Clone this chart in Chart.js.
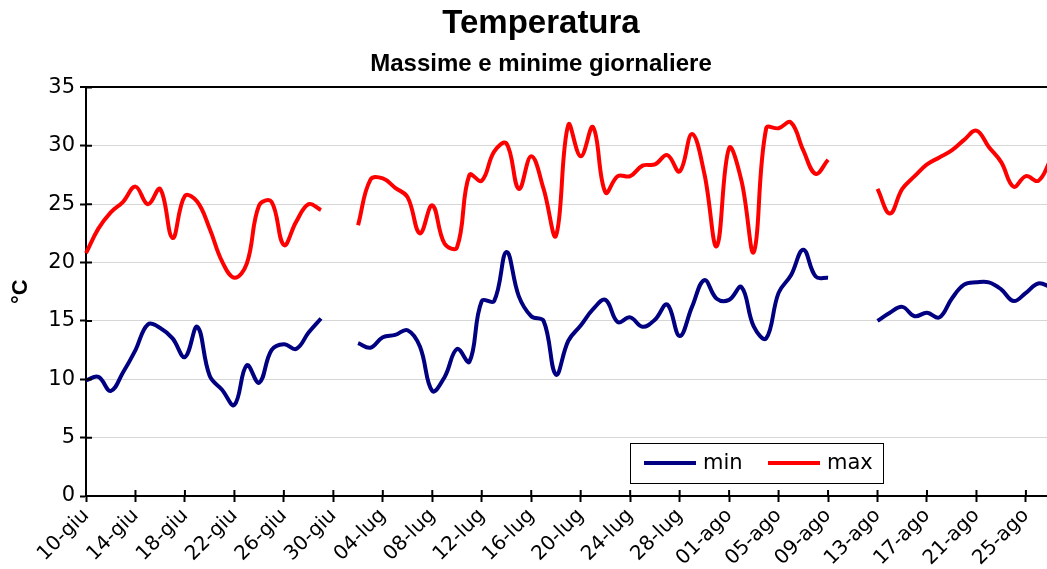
<!DOCTYPE html>
<html>
<head>
<meta charset="utf-8">
<script src="https://cdn.jsdelivr.net/npm/chart.js@4.4.1/dist/chart.umd.min.js"></script>
<style>
  html, body { margin: 0; padding: 0; background: #fff; overflow: hidden; }
  #wrap { width: 1082px; height: 569px; position: relative; }
</style>
</head>
<body>
<div id="wrap"><canvas id="temp-chart"></canvas></div>
<script>
// giorni dal 10-giu al 28-ago
const days = [
  '10-giu','11-giu','12-giu','13-giu','14-giu','15-giu','16-giu','17-giu','18-giu','19-giu',
  '20-giu','21-giu','22-giu','23-giu','24-giu','25-giu','26-giu','27-giu','28-giu','29-giu',
  '30-giu','01-lug','02-lug','03-lug','04-lug','05-lug','06-lug','07-lug','08-lug','09-lug',
  '10-lug','11-lug','12-lug','13-lug','14-lug','15-lug','16-lug','17-lug','18-lug','19-lug',
  '20-lug','21-lug','22-lug','23-lug','24-lug','25-lug','26-lug','27-lug','28-lug','29-lug',
  '30-lug','31-lug','01-ago','02-ago','03-ago','04-ago','05-ago','06-ago','07-ago','08-ago',
  '09-ago','10-ago','11-ago','12-ago','13-ago','14-ago','15-ago','16-ago','17-ago','18-ago',
  '19-ago','20-ago','21-ago','22-ago','23-ago','24-ago','25-ago','26-ago','27-ago','28-ago'
];

// minime giornaliere (°C), null = dato mancante
const minTemps = [
  9.9, 10.2, 9.0, 10.6, 12.5, 14.7, 14.4, 13.5, 11.9, 14.5,
  10.3, 9.1, 7.8, 11.2, 9.7, 12.5, 13.0, 12.6, 14.0, 15.2,
  null, null, 13.1, 12.7, 13.6, 13.8, 14.2, 12.8, 9.0, 10.2,
  12.6, 11.5, 16.7, 16.7, 20.9, 17.1, 15.4, 15.0, 10.4, 13.3,
  14.6, 16.0, 16.8, 14.9, 15.3, 14.5, 15.1, 16.4, 13.7, 16.2,
  18.5, 16.9, 16.8, 17.9, 14.5, 13.5, 17.4, 18.9, 21.1, 18.8,
  18.7, null, null, null, 15.0, 15.7, 16.2, 15.4, 15.7, 15.3,
  16.9, 18.1, 18.3, 18.3, 17.7, 16.7, 17.4, 18.2, 17.9, null
];

// massime giornaliere (°C)
const maxTemps = [
  20.8, 22.9, 24.3, 25.2, 26.5, 25.0, 26.3, 22.1, 25.7, 25.2,
  22.9, 20.1, 18.7, 19.9, 24.9, 25.2, 21.5, 23.5, 25.0, 24.5,
  null, null, 23.2, 27.1, 27.2, 26.4, 25.6, 22.5, 24.9, 21.6,
  21.3, 27.5, 27.0, 29.5, 30.2, 26.3, 29.1, 26.3, 22.3, 31.8,
  29.1, 31.6, 26.0, 27.4, 27.4, 28.3, 28.4, 29.2, 27.8, 31.0,
  27.6, 21.4, 29.8, 27.0, 20.9, 31.5, 31.5, 32.0, 29.6, 27.6,
  28.8, null, null, null, 26.3, 24.2, 26.3, 27.4, 28.4, 29.0,
  29.6, 30.5, 31.3, 29.9, 28.6, 26.5, 27.4, 27.0, 28.8, null
];

const yTicks = [0, 5, 10, 15, 20, 25, 30, 35];

// legenda in riquadro dentro l'area del grafico, come nell'originale
const boxLegend = {
  id: 'boxLegend',
  afterDraw(chart) {
    const c = chart.ctx;
    const x = 630, y = 443, w = 253, h = 40;
    c.save();
    c.fillStyle = '#fff';
    c.fillRect(x, y, w, h);
    c.strokeStyle = '#000';
    c.lineWidth = 1;
    c.strokeRect(x + 0.5, y + 0.5, w, h);
    c.font = '21px "DejaVu Sans"';
    c.textBaseline = 'middle';
    const offsets = [14, 138];
    chart.data.datasets.forEach((ds, i) => {
      const lx = x + offsets[i];
      c.strokeStyle = ds.borderColor;
      c.lineWidth = 4;
      c.beginPath();
      c.moveTo(lx, y + h / 2);
      c.lineTo(lx + 52, y + h / 2);
      c.stroke();
      c.fillStyle = '#000';
      c.fillText(ds.label, lx + 59, y + h / 2 + 1);
    });
    c.restore();
  }
};

// piccole tacche che attraversano gli assi (stile Excel)
const crossTicks = {
  id: 'crossTicks',
  afterDatasetsDraw(chart) {
    const c = chart.ctx;
    const xs = chart.scales.x, ys = chart.scales.y;
    c.save();
    c.strokeStyle = '#000';
    c.lineWidth = 2;
    c.beginPath();
    xs.ticks.forEach((t, i) => {
      if (i % 4 !== 0) return;
      const px = xs.getPixelForTick(i);
      c.moveTo(px, ys.bottom);
      c.lineTo(px, ys.bottom - 6);
    });
    ys.ticks.forEach((t, i) => {
      const py = ys.getPixelForTick(i);
      c.moveTo(xs.left, py);
      c.lineTo(xs.left + 6, py);
    });
    c.stroke();
    c.restore();
  }
};

const ctx = document.getElementById('temp-chart').getContext('2d');
new Chart(ctx, {
  type: 'line',
  data: {
    labels: days,
    datasets: [
      {
        label: 'min',
        data: minTemps,
        borderColor: '#000080',
        borderWidth: 4,
        pointRadius: 0,
        tension: 0.4,
        spanGaps: false
      },
      {
        label: 'max',
        data: maxTemps,
        borderColor: '#ff0000',
        borderWidth: 4,
        pointRadius: 0,
        tension: 0.4,
        spanGaps: false
      }
    ]
  },
  options: {
    responsive: true,
    maintainAspectRatio: false,
    animation: false,
    layout: { padding: { left: 14, right: 14, top: 0, bottom: 0 } },
    plugins: {
      legend: { display: false },
      tooltip: { enabled: false },
      title: {
        display: true,
        text: 'Temperatura',
        color: '#000',
        font: { family: '"Liberation Sans", Arial', size: 33, weight: 'bold' },
        padding: { top: 4, bottom: 6 }
      },
      subtitle: {
        display: true,
        text: 'Massime e minime giornaliere',
        color: '#000',
        font: { family: '"Liberation Sans", Arial', size: 24, weight: 'bold' },
        padding: { top: 0, bottom: 9 }
      }
    },
    scales: {
      x: {
        type: 'category',
        offset: false,
        afterFit: (scale) => { scale.height = 73; },
        grid: {
          drawOnChartArea: false,
          drawTicks: true,
          tickLength: 6,
          tickWidth: 2,
          tickColor: (c) => (c.index % 4 === 0 ? '#000' : 'rgba(0,0,0,0)'),
          color: 'rgba(0,0,0,0)'
        },
        border: { display: true, color: '#000', width: 2 },
        ticks: {
          autoSkip: false,
          maxRotation: 45,
          minRotation: 45,
          padding: 2,
          color: '#000',
          font: { family: '"DejaVu Sans"', size: 20 },
          callback: (v, i) => (i % 4 === 0 ? days[i] : '')
        }
      },
      y: {
        min: 0,
        max: 35,
        afterFit: (scale) => { scale.width = 72; },
        afterBuildTicks: (scale) => { scale.ticks = yTicks.map(v => ({ value: v })); },
        title: {
          display: true,
          text: '°C',
          color: '#000',
          font: { family: '"Liberation Sans", Arial', size: 22, weight: 'bold' },
          padding: { top: -6, bottom: 0 }
        },
        grid: {
          drawTicks: true,
          tickLength: 6,
          tickWidth: 2,
          tickColor: '#000',
          color: (c) => (c.tick && c.tick.value === 35 ? '#000' : '#d6d6d6'),
          lineWidth: (c) => (c.tick && c.tick.value === 35 ? 2 : 1)
        },
        border: { display: true, color: '#000', width: 2 },
        ticks: {
          padding: 5,
          color: '#000',
          font: { family: '"DejaVu Sans"', size: 21 }
        }
      }
    }
  },
  plugins: [crossTicks, boxLegend]
});
</script>
</body>
</html>
